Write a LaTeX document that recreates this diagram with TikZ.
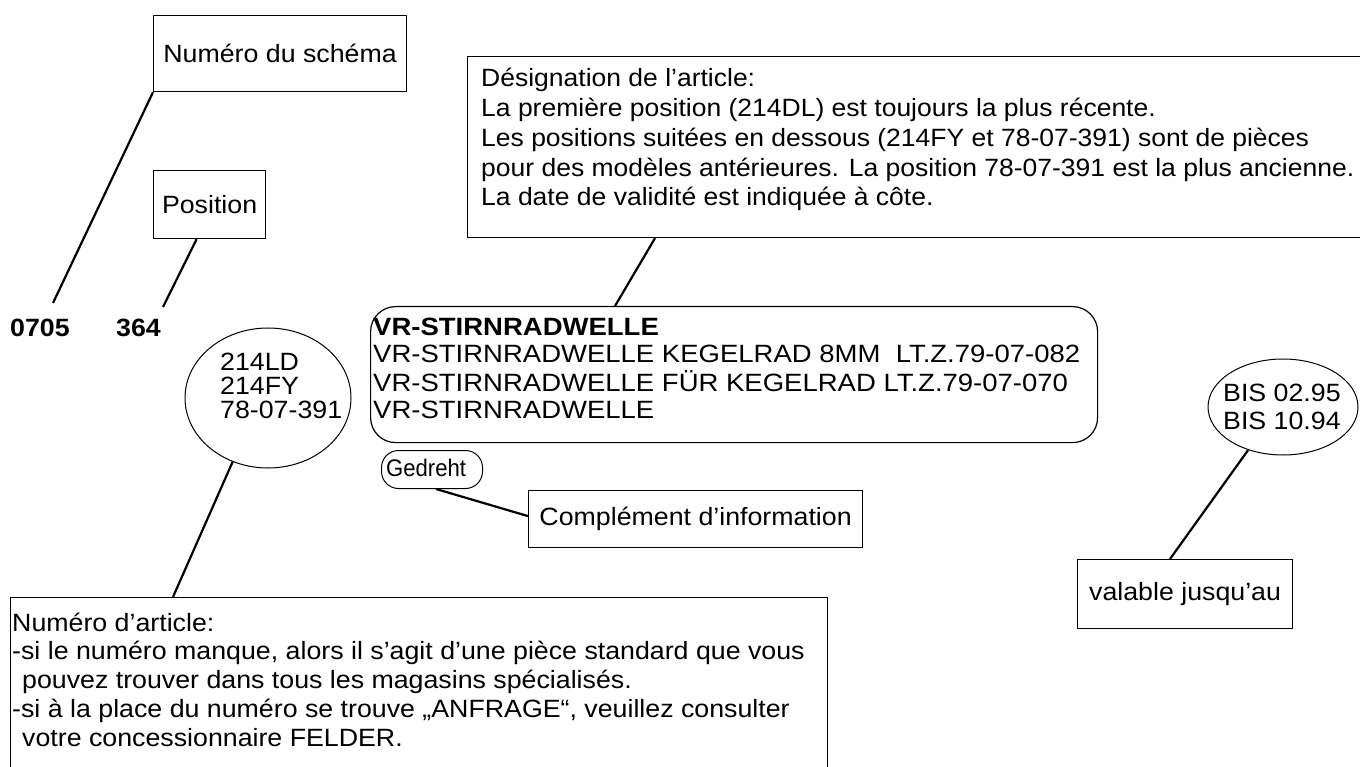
\documentclass[tikz,border=0pt]{standalone}
\usepackage{fontspec}
\setmainfont{Liberation Sans}[FakeStretch=1.07]
\newfontfamily\vrfont{Liberation Sans}[FakeStretch=1.10]
\newfontfamily\desfont{Liberation Sans}[FakeStretch=1.06]
\newfontfamily\gedfont{Liberation Sans}[FakeStretch=0.92]
\usetikzlibrary{shapes.geometric}
\newcommand\mylines[2]{{\fontsize{25}{#1}\selectfont\begin{tabular}[t]{@{}l@{}}#2\end{tabular}}}
\begin{document}
\begin{tikzpicture}[x=1pt,y=-1pt,
  box/.style={draw, line width=1.2pt, inner sep=0pt, anchor=north west},
  oval/.style={draw, ellipse, line width=1pt, inner sep=0pt},
  txt/.style={inner sep=0pt, anchor=base west, font=\fontsize{25}{31}\selectfont},
  conn/.style={line width=2.2pt},
]
\useasboundingbox (0,0) rectangle (1360,767);
\fill[white] (0,0) rectangle (1360,767);

% top-left labels
\node[box, minimum width=253pt, minimum height=76pt, font=\fontsize{25}{31}\selectfont] (schema) at (153,15) {Numéro du schéma};
\node[box, minimum width=112pt, minimum height=68pt, font=\fontsize{25}{31}\selectfont] (pos) at (153,170) {Position};
\node[txt, font=\fontsize{25}{31}\selectfont\bfseries] (n0705) at (10,336) {0705};
\node[txt, font=\fontsize{25}{31}\selectfont\bfseries] (n364) at (116,336) {364};
\coordinate (e0705) at (53,303);
\coordinate (e364) at (163,307);
\draw[conn] (schema.south west) -- (e0705);
\draw[conn] ([xshift=-13pt]pos.south) -- (e364);

% designation box
\node[box, minimum width=910pt, minimum height=181pt] (des) at (467,56) {};
\node[txt, font=\desfont] (destxt) at (481,87) {\mylines{29.7pt}{Désignation de l’article:\\
La première position (214DL) est toujours la plus récente.\\
Les positions suitées en dessous (214FY et 78-07-391) sont de pièces\\
pour des modèles antérieures. La position 78-07-391 est la plus ancienne.\\
La date de validité est indiquée à côte.}};

% article name rounded box
\node[box, rounded corners=25pt, minimum width=727pt, minimum height=136pt] (vr) at (370,306) {};
\node[txt, font=\vrfont] (vrtxt) at (373,335) {\mylines{27.3pt}{\textbf{VR-STIRNRADWELLE}\\
VR-STIRNRADWELLE KEGELRAD 8MM\ \ LT.Z.79-07-082\\
VR-STIRNRADWELLE FÜR KEGELRAD LT.Z.79-07-070\\
VR-STIRNRADWELLE}};
\draw[conn] ([xshift=188pt]des.south west) -- ([xshift=245pt]vr.north west);

% Gedreht
\node[box, rounded corners=17pt, minimum width=101pt, minimum height=38pt, line width=1pt] (ged) at (381,450) {};
\node[txt, font=\gedfont\fontsize{24}{28}\selectfont] (gedtxt) at (386,476) {Gedreht};
\node[box, minimum width=334pt, minimum height=57pt, font=\fontsize{25}{31}\selectfont] (comp) at (528,490) {Complément d’information};
\draw[conn] ([xshift=4pt]ged.south) -- ([yshift=3pt]comp.west);

% article numbers ellipse
\node[oval, minimum width=166pt, minimum height=140pt] (ell) at (268,398) {};
\node[txt] (elltxt) at (220,370) {\mylines{23pt}{214LD\\214FY\\78-07-391}};

% bottom box
\node[box, minimum width=817pt, minimum height=200pt] (art) at (10,597) {};
\node[txt] (arttxt) at (12,631) {\mylines{28.8pt}{Numéro d’article:\\
-si le numéro manque, alors il s’agit d’une pièce standard que vous\\
\hspace*{10pt}pouvez trouver dans tous les magasins spécialisés.\\
-si à la place du numéro se trouve „ANFRAGE“, veuillez consulter\\
\hspace*{10pt}votre concessionnaire FELDER.}};
\draw[conn] (ell.-119) -- ([xshift=163pt]art.north west);

% validity
\node[oval, minimum width=150pt, minimum height=96pt] (bis) at (1283,407) {};
\node[txt] (bistxt) at (1223,401) {\mylines{28pt}{BIS 02.95\\BIS 10.94}};
\node[box, minimum width=215pt, minimum height=69pt, font=\fontsize{25}{31}\selectfont] (val) at (1077,559) {valable jusqu’au};
\draw[conn] (bis.-129) -- ([xshift=93pt]val.north west);
\end{tikzpicture}
\end{document}
